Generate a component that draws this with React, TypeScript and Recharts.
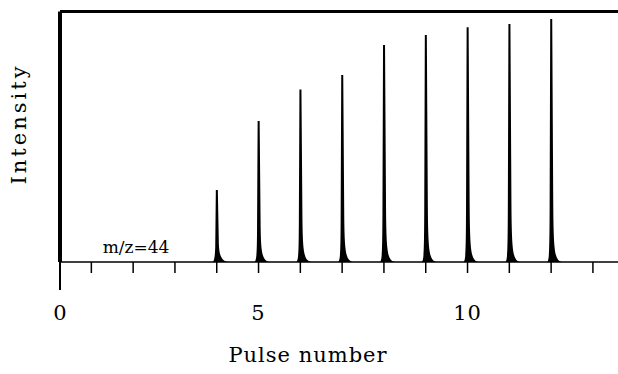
import React from 'react';
import {
  BarChart,
  Bar,
  XAxis,
  YAxis,
  ReferenceLine,
  Customized
} from 'recharts';

// Pulse train, m/z = 44
const pulses = [4, 5, 6, 7, 8, 9, 10, 11, 12];
const intensity = [28.7, 56.3, 68.9, 74.7, 86.6, 90.6, 93.7, 95.0, 97.0];

// axis range and tick marks
const X_MIN = 0.25;
const X_MAX = 13.6;
const minorTicks = [1, 2, 3, 4, 5, 6, 7, 8, 9, 10, 11, 12, 13];
const labeledTicks = [5, 10];

const FONT = '"DejaVu Serif", serif';

const data = pulses.map((p, i) => ({ pulse: p, value: intensity[i] }));

// narrow spike with a tail trailing off to the right
const Spike = (props: any) => {
  const { x, y, width, height } = props;
  if (!height || height <= 0) return null;
  const cx = x + width / 2;
  const yb = y + height;
  const h = height;
  const d = [
    `M ${cx - 4} ${yb}`,
    `C ${cx - 2} ${yb - 2} ${cx - 1.8} ${yb - 10} ${cx - 1.6} ${yb - 0.22 * h}`,
    `L ${cx - 1} ${y}`,
    `L ${cx + 1} ${y}`,
    `L ${cx + 2} ${yb - 0.25 * h}`,
    `C ${cx + 2.4} ${yb - 9} ${cx + 3.5} ${yb - 1.5} ${cx + 11} ${yb}`,
    'Z'
  ].join(' ');
  return <path d={d} fill="#000" />;
};

const AxisTick = (props: any) => {
  const { x, y, payload } = props;
  const v = payload.value;
  if (v === X_MIN) {
    return (
      <g>
        <line x1={x} y1={y} x2={x} y2={y + 28} stroke="#000" strokeWidth={2} />
        <text x={x} y={y + 58} textAnchor="middle" fontFamily={FONT} fontSize={21} fill="#000">0</text>
      </g>
    );
  }
  return (
    <g>
      <line x1={x} y1={y} x2={x} y2={y + 11} stroke="#000" strokeWidth={1.5} />
      {labeledTicks.includes(v) && (
        <text x={x} y={y + 58} textAnchor="middle" fontFamily={FONT} fontSize={21} letterSpacing={1} fill="#000">
          {v}
        </text>
      )}
    </g>
  );
};

const Titles = () => (
  <g fontFamily={FONT} fill="#000">
    <text x={26} y={124} fontSize={21} letterSpacing={3} textAnchor="middle" transform="rotate(-90 26 124)">
      Intensity
    </text>
    <text x={308} y={362} fontSize={21} letterSpacing={1} textAnchor="middle">
      Pulse number
    </text>
    <text x={136} y={253} fontSize={17} letterSpacing={0} textAnchor="middle">
      m/z=44
    </text>
  </g>
);

const App: React.FC = () => {
  return (
    <div style={{ position: 'absolute', left: 0, top: 0, background: '#fff' }}>
      <BarChart
        width={618}
        height={374}
        data={data}
        margin={{ top: 11.5, right: 0, bottom: 12, left: 0 }}
      >
        <XAxis
          dataKey="pulse"
          type="number"
          domain={[X_MIN, X_MAX]}
          ticks={[X_MIN, ...minorTicks]}
          interval={0}
          height={100}
          tickSize={0}
          tickMargin={0}
          tickLine={false}
          axisLine={{ stroke: '#000', strokeWidth: 1.5 }}
          tick={<AxisTick />}
        />
        <YAxis
          type="number"
          domain={[0, 100]}
          width={60}
          tick={false}
          tickLine={false}
          axisLine={{ stroke: '#000', strokeWidth: 4 }}
        />
        <ReferenceLine y={100} stroke="#000" strokeWidth={3} />
        <Bar
          dataKey="value"
          barSize={16}
          shape={<Spike />}
          isAnimationActive={false}
        />
        <Customized component={<Titles />} />
      </BarChart>
    </div>
  );
};

export default App;
